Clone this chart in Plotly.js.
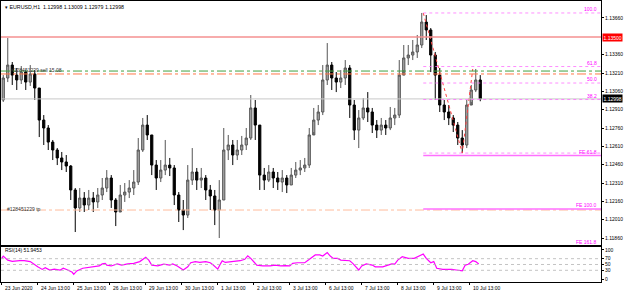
<!DOCTYPE html>
<html><head><meta charset="utf-8">
<script src="https://cdn.plot.ly/plotly-3.0.1.min.js"></script>
<style>html,body{margin:0;padding:0;background:#fff}#chart{width:625px;height:291px}</style>
</head><body><div id="chart"></div>
<script>
// ---- data (3-hour candles) ----
const candleOpen = [1.12989,1.13169,1.13275,1.13193,1.13153,1.13218,1.13136,1.13202,1.13087,1.12825,
1.12760,1.12645,1.12580,1.12515,1.12482,1.12449,1.12253,1.12106,1.12187,1.12130,
1.12187,1.12155,1.12212,1.12269,1.12351,1.12171,1.12073,1.12212,1.12236,1.12269,
1.12318,1.12580,1.12784,1.12703,1.12457,1.12351,1.12416,1.12457,1.12433,1.12212,
1.12089,1.12048,1.12334,1.12400,1.12334,1.12351,1.12253,1.12204,1.12089,1.12171,
1.12580,1.12621,1.12539,1.12580,1.12621,1.12678,1.12924,1.12784,1.12375,1.12334,
1.12400,1.12351,1.12318,1.12351,1.12294,1.12375,1.12416,1.12433,1.12457,1.12703,
1.12825,1.12891,1.13153,1.13275,1.13169,1.13136,1.13169,1.13251,1.12948,1.12743,
1.12842,1.12924,1.12891,1.12784,1.12743,1.12784,1.12760,1.12842,1.12866,1.13193,
1.13333,1.13357,1.13382,1.13439,1.13627,1.13562,1.13357,1.13193,1.12948,1.12891,
1.12842,1.12784,1.12678,1.12621,1.12948,1.13071,1.13153];
const candleHigh = [1.13193,1.13496,1.13300,1.13251,1.13267,1.13234,1.13275,1.13234,1.13030,1.12866,
1.12784,1.12662,1.12596,1.12564,1.12539,1.12457,1.12269,1.12269,1.12236,1.12253,
1.12236,1.12269,1.12351,1.12416,1.12375,1.12187,1.12294,1.12310,1.12334,1.12416,
1.12678,1.12842,1.12866,1.12703,1.12498,1.12498,1.12662,1.12515,1.12457,1.12236,
1.12171,1.12457,1.12596,1.12433,1.12433,1.12375,1.12294,1.12253,1.12334,1.12760,
1.12703,1.12662,1.12662,1.12695,1.12760,1.13030,1.12989,1.12784,1.12433,1.12457,
1.12433,1.12400,1.12416,1.12375,1.12433,1.12482,1.12498,1.12515,1.12760,1.12924,
1.12948,1.13275,1.13455,1.13300,1.13218,1.13234,1.13316,1.13275,1.12989,1.12907,
1.13005,1.13054,1.12924,1.12825,1.12842,1.12825,1.12932,1.12924,1.13316,1.13439,
1.13439,1.13480,1.13521,1.13701,1.13684,1.13578,1.13382,1.13251,1.12989,1.12948,
1.12866,1.12809,1.12743,1.12989,1.13112,1.13243,1.13193];
const candleLow = [1.12973,1.13136,1.13112,1.13071,1.13120,1.13071,1.13104,1.12989,1.12686,1.12621,
1.12580,1.12498,1.12457,1.12416,1.12400,1.12171,1.11909,1.12073,1.12073,1.12089,
1.12073,1.12106,1.12171,1.12236,1.12106,1.11958,1.12089,1.12155,1.12187,1.12212,
1.12294,1.12564,1.12662,1.12375,1.12253,1.12318,1.12375,1.12367,1.12130,1.11991,
1.11925,1.12024,1.12294,1.12253,1.12269,1.12171,1.12089,1.11966,1.11860,1.12171,
1.12498,1.12457,1.12498,1.12539,1.12580,1.12662,1.12662,1.12253,1.12253,1.12318,
1.12269,1.12253,1.12236,1.12228,1.12294,1.12351,1.12375,1.12400,1.12433,1.12727,
1.12784,1.12866,1.13112,1.13071,1.13054,1.13087,1.13112,1.12842,1.12662,1.12596,
1.12825,1.12809,1.12719,1.12678,1.12703,1.12703,1.12743,1.12784,1.12842,1.13234,
1.13275,1.13316,1.13333,1.13414,1.13480,1.13218,1.12989,1.12891,1.12825,1.12784,
1.12727,1.12621,1.12555,1.12596,1.12973,1.13054,1.12979];
const candleClose = [1.13169,1.13275,1.13193,1.13153,1.13218,1.13136,1.13202,1.13087,1.12825,1.12760,
1.12645,1.12580,1.12515,1.12482,1.12449,1.12253,1.12106,1.12187,1.12130,1.12187,
1.12155,1.12212,1.12269,1.12351,1.12171,1.12073,1.12212,1.12236,1.12269,1.12318,
1.12580,1.12784,1.12703,1.12457,1.12351,1.12416,1.12457,1.12433,1.12212,1.12089,
1.12048,1.12334,1.12400,1.12334,1.12351,1.12253,1.12204,1.12089,1.12171,1.12580,
1.12621,1.12539,1.12580,1.12621,1.12678,1.12924,1.12784,1.12375,1.12334,1.12400,
1.12351,1.12318,1.12351,1.12294,1.12375,1.12416,1.12433,1.12457,1.12703,1.12825,
1.12891,1.13153,1.13275,1.13169,1.13136,1.13169,1.13251,1.12948,1.12743,1.12842,
1.12924,1.12891,1.12784,1.12743,1.12784,1.12760,1.12842,1.12866,1.13193,1.13333,
1.13357,1.13382,1.13439,1.13627,1.13562,1.13357,1.13193,1.12948,1.12891,1.12842,
1.12784,1.12678,1.12621,1.12948,1.13071,1.13153,1.12998];

const rsiBar = [0,1,4,7,12,15,19,21,22,24,27,29,32,35,39,41,44,47,48,50,54,58,62,65,67,69,70,73,77,80,84,88,92,96,98,100,104,108,112,114,117,119,121,124,126,129,132,136,139,141,144,146,147,149,154,159,162,164,166,168,170,174,179,182,186,189,192,194,197,202,206,209,212,214,217,219,221,224,226,230,232,234,238,240,243,247,249,254,257,260,262,264,267,271,275,279,281,283,286,288,290,294,297,300,303,307,309,311,314,316,318];
const rsiValue = [71,79,65,61,63,63,60,52,48,42,33,39,31,34,31,37,31,23,16,28,37,40,42,45,52,54,48,45,52,48,52,54,60,75,65,48,45,51,48,52,45,37,31,42,56,60,57,60,56,48,34,54,63,57,60,63,68,80,71,60,48,45,45,48,45,46,45,54,56,56,71,83,83,79,91,79,71,71,65,63,63,54,31,45,52,48,42,42,48,52,51,65,77,71,71,80,86,71,56,60,37,33,34,33,31,28,48,51,63,60,52];

const priceTicks = [1.13660,1.13360,1.13210,1.13060,1.12910,1.12760,1.12610,1.12460,1.12310,1.12160,1.12010,1.11860];
const rsiTicks = [0,30,50,70,100];
const rsiLevels = [30,50,70];
const dateTickBars = [0,24,48,72,96,120,144,168,192,216,240,264,288,312];
const dateTickLabels = ['23 Jun 2020','24 Jun 13:00','25 Jun 13:00','26 Jun 13:00','29 Jun 13:00','30 Jun 13:00','1 Jul 13:00','2 Jul 13:00','3 Jul 13:00','6 Jul 13:00','7 Jul 13:00','8 Jul 13:00','9 Jul 13:00','10 Jul 13:00'];

const headerText = 'EURUSD,H1  1.12998 1.13009 1.12979 1.12998';
const rsiText = 'RSI(14) 51.9453';
const bidPrice = 1.12998;
const redLevel = 1.13504, redLabel = '1.13500';
const orderEntry = 1.13226, orderStop = 1.13202, orderTP = 1.12089;
const orderLabel = '#128451229 sell 15.08', tpLabel = '#128451229 tp';

const zigBar = [281, 307, 314];
const zigPrice = [1.13701, 1.12555, 1.13243];
const fibStartBar = 281;
const fibLevels = [1.13701, 1.13263, 1.13128, 1.12993, 1.12555];
const fibLabels = ['100.0','61.8','50.0','38.2',''];
const feLevels = [1.12535, 1.12097];
const feLabels = ['FE 61.8','FE 100.0'];
const feOffLabel = 'FE 161.8';

// ---- chart ----
const FONT = 'Liberation Sans, Arial, sans-serif';
const XR = [-0.5, 399.5];
const YR = [1.11803, 1.13799];
const candleBar = candleClose.map((_, i) => i * 3 + 1);

const traces = [
  {type:'candlestick', x:candleBar, open:candleOpen, high:candleHigh, low:candleLow, close:candleClose,
   xaxis:'x', yaxis:'y', whiskerwidth:0, hoverinfo:'skip', showlegend:false,
   increasing:{line:{color:'#555', width:1}, fillcolor:'#a8a8a8'},
   decreasing:{line:{color:'#000', width:1}, fillcolor:'#000'}},
  {type:'scatter', mode:'lines', x:zigBar, y:zigPrice, xaxis:'x', yaxis:'y',
   line:{color:'#ff4040', width:1, dash:'dot'}, hoverinfo:'skip', showlegend:false},
  {type:'scatter', mode:'lines', x:rsiBar, y:rsiValue, xaxis:'x2', yaxis:'y2',
   line:{color:'#ff00ff', width:1.2}, hoverinfo:'skip', showlegend:false}
];

const shapes = [];
const hline = (y, color, width, dash, x0, xref, yref) => shapes.push({type:'line', xref:xref||'paper', yref:yref||'y',
  x0:x0===undefined?0:x0, x1:xref==='x'?XR[1]:1, y0:y, y1:y, line:{color, width, dash}, layer:'above'});
hline(bidPrice, '#c8c8c8', 1, 'solid');
hline(redLevel, '#f49090', 1.6, 'solid');
hline(orderEntry, '#40a040', 1, 'dashdot');
hline(orderStop, '#ff7848', 1, 'dashdot');
hline(orderTP, '#ffbc9c', 1, 'dashdot');
fibLevels.forEach(v => hline(v, '#ff70ff', 0.8, 'dot', fibStartBar, 'x', 'y'));
feLevels.forEach(v => hline(v, '#ff70ff', 1.4, 'solid', fibStartBar, 'x', 'y'));
rsiLevels.forEach(v => hline(v, '#b4b4b4', 0.8, 'dot', 0, 'paper', 'y2'));

const annotations = [
  {xref:'paper', yref:'paper', x:0.003, y:1, xanchor:'left', yanchor:'top', yshift:-1, showarrow:false,
   text:'▾ ' + headerText, font:{family:FONT, size:5.3, color:'#000'}},
  {xref:'paper', yref:'y2', x:0.004, y:100, xanchor:'left', yanchor:'middle', showarrow:false,
   text:rsiText, font:{family:FONT, size:5, color:'#000'}},
  {xref:'paper', yref:'y', x:1, y:redLevel, xanchor:'left', yanchor:'middle', xshift:1, showarrow:false,
   text:redLabel, bgcolor:'#ff0000', borderpad:0.5, font:{family:FONT, size:5, color:'#fff'}},
  {xref:'paper', yref:'y', x:1, y:bidPrice, xanchor:'left', yanchor:'middle', xshift:1, showarrow:false,
   text:bidPrice.toFixed(5), bgcolor:'#000', borderpad:0.5, font:{family:FONT, size:5, color:'#fff'}},
  {xref:'x', yref:'y', x:5, y:orderEntry, xanchor:'left', yanchor:'middle', yshift:1.5, showarrow:false,
   text:orderLabel, font:{family:FONT, size:5, color:'#333'}},
  {xref:'x', yref:'y', x:2, y:orderTP, xanchor:'left', yanchor:'middle', yshift:1.5, showarrow:false,
   text:tpLabel, font:{family:FONT, size:5, color:'#333'}},
  {xref:'x', yref:'y', x:398, y:YR[0], xanchor:'right', yanchor:'bottom', yshift:-2, showarrow:false,
   text:feOffLabel, font:{family:FONT, size:5, color:'#ff00ff'}}
];
fibLevels.forEach((v, i) => { if (fibLabels[i]) annotations.push({xref:'x', yref:'y', x:398, y:v, xanchor:'right', yanchor:'bottom', yshift:-1,
  showarrow:false, text:fibLabels[i], font:{family:FONT, size:5, color:'#ff00ff'}}); });
feLevels.forEach((v, i) => annotations.push({xref:'x', yref:'y', x:398, y:v, xanchor:'right', yanchor:'bottom', yshift:-1,
  showarrow:false, text:feLabels[i], font:{family:FONT, size:5, color:'#ff00ff'}}));
dateTickBars.forEach((b, i) => annotations.push({xref:'x2', yref:'paper', x:b, y:0, xanchor:'left', yanchor:'top',
  xshift:1, yshift:-1, showarrow:false, text:dateTickLabels[i], font:{family:FONT, size:5, color:'#000'}}));

const axFont = {family:FONT, size:5, color:'#000'};
const layout = {
  width:625, height:291, margin:{l:1, r:24, t:1, b:9},
  paper_bgcolor:'#fff', plot_bgcolor:'#fff', showlegend:false,
  xaxis:{domain:[0,1], range:XR, anchor:'y', showline:true, mirror:true, linecolor:'#000', linewidth:1,
         showticklabels:false, ticks:'', showgrid:false, zeroline:false, rangeslider:{visible:false}, fixedrange:true},
  yaxis:{domain:[0.1317,1], range:YR, anchor:'x', side:'right', showline:true, mirror:true,
         linecolor:'#000', linewidth:1, ticks:'outside', ticklen:2, tickcolor:'#000', tickvals:priceTicks,
         ticktext:priceTicks.map(v => v.toFixed(5)), tickfont:axFont, showgrid:false, zeroline:false, automargin:false},
  xaxis2:{domain:[0,1], range:XR, anchor:'y2', showline:true, mirror:true, linecolor:'#000', linewidth:1,
          ticks:'outside', ticklen:2, tickcolor:'#000', tickvals:dateTickBars, showticklabels:false,
          showgrid:false, zeroline:false},
  yaxis2:{domain:[0,0.1246], range:[-10.3,110.3], anchor:'x2', side:'right', showline:true, mirror:true,
          linecolor:'#000', linewidth:1, ticks:'outside', ticklen:2, tickcolor:'#000', tickvals:rsiTicks,
          tickfont:axFont, showgrid:false, zeroline:false, automargin:false},
  shapes, annotations
};
Plotly.newPlot('chart', traces, layout, {staticPlot:true, displayModeBar:false});
</script></body></html>
